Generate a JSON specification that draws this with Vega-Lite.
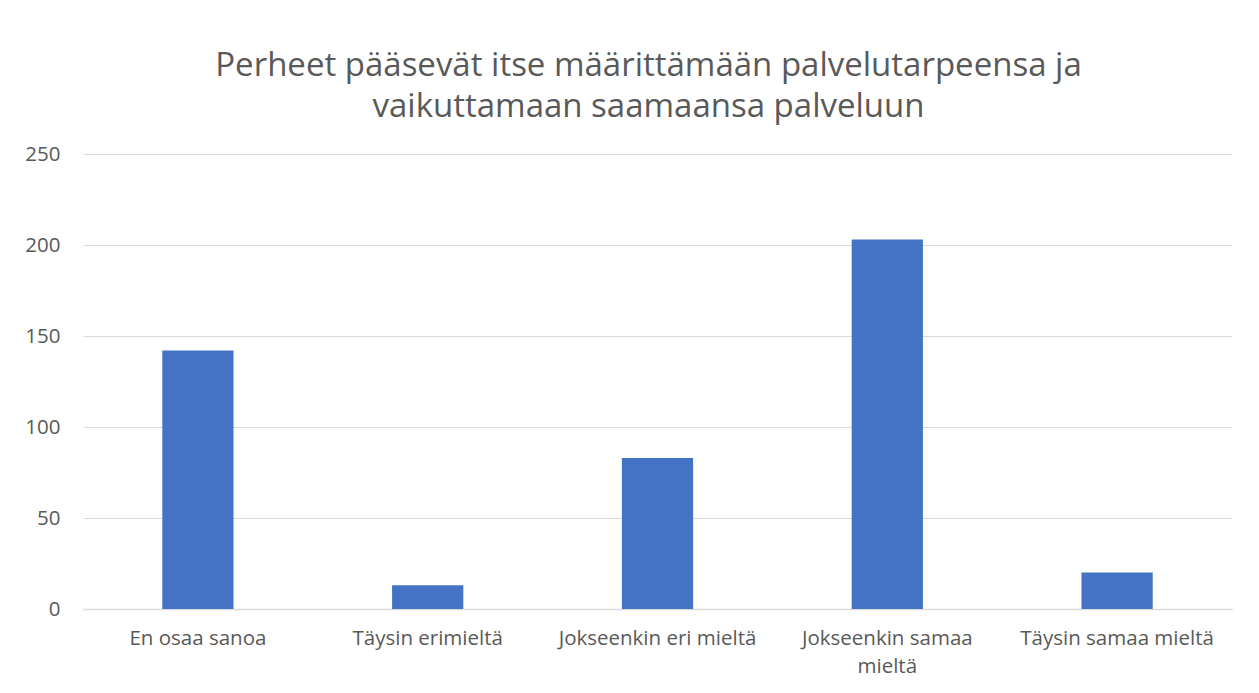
{
  "$schema": "https://vega.github.io/schema/vega-lite/v6.json",
  "width": 1149,
  "height": 455,
  "autosize": {"type": "none"},
  "padding": {"left": 83, "top": 154, "right": 27, "bottom": 84},
  "background": "white",
  "title": {
    "text": ["Perheet pääsevät itse määrittämään palvelutarpeensa ja", "vaikuttamaan saamaansa palveluun"],
    "font": "Open Sans",
    "fontSize": 33,
    "fontWeight": 400,
    "color": "#595959",
    "lineHeight": 41,
    "anchor": "middle",
    "offset": 20,
    "dx": -9
  },
  "data": {
    "values": [
      {"vastaus": "En osaa sanoa", "lkm": 142},
      {"vastaus": "Täysin erimieltä", "lkm": 13},
      {"vastaus": "Jokseenkin eri mieltä", "lkm": 83},
      {"vastaus": "Jokseenkin samaa mieltä", "lkm": 203},
      {"vastaus": "Täysin samaa mieltä", "lkm": 20}
    ]
  },
  "mark": {"type": "bar", "color": "#4472C4"},
  "encoding": {
    "x": {
      "field": "vastaus",
      "type": "nominal",
      "sort": null,
      "scale": {"paddingInner": 0.69, "paddingOuter": 0.345},
      "axis": {
        "title": null,
        "labelAngle": 0,
        "labelFont": "Open Sans",
        "labelFontSize": 20.5,
        "labelColor": "#595959",
        "labelPadding": 19,
        "labelLineHeight": 28,
        "labelLimit": 300,
        "ticks": false,
        "domainColor": "#d9d9d9",
        "domainWidth": 1.5,
        "labelExpr": "datum.label == 'Jokseenkin samaa mieltä' ? ['Jokseenkin samaa', 'mieltä'] : datum.label"
      }
    },
    "y": {
      "field": "lkm",
      "type": "quantitative",
      "scale": {"domain": [0, 250], "nice": false},
      "axis": {
        "title": null,
        "values": [0, 50, 100, 150, 200, 250],
        "labelFont": "Open Sans",
        "labelFontSize": 20.5,
        "labelColor": "#595959",
        "labelPadding": 23,
        "ticks": false,
        "domain": false,
        "gridColor": "#d9d9d9",
        "gridWidth": 1.2
      }
    }
  },
  "config": {"view": {"stroke": null}}
}
